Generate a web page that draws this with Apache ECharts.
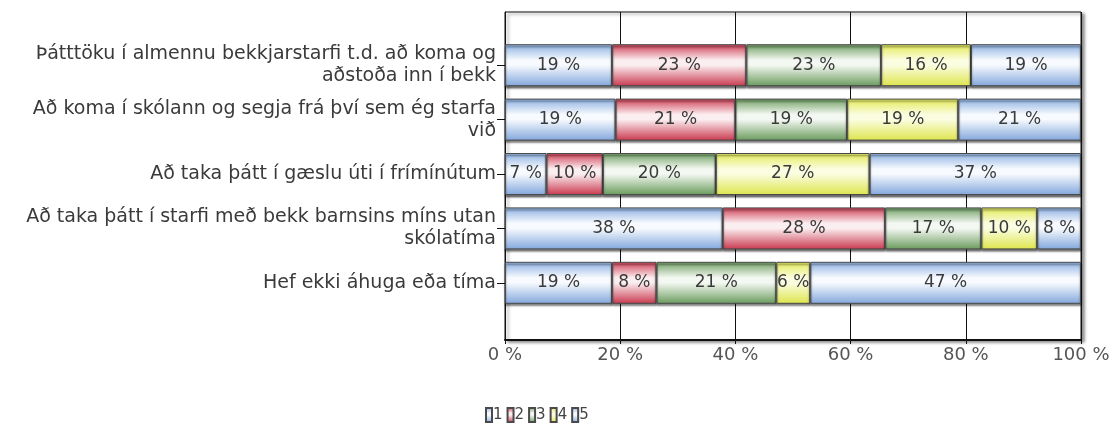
<!DOCTYPE html>
<html>
<head>
<meta charset="utf-8">
<script src="https://cdn.jsdelivr.net/npm/echarts@6/dist/echarts.min.js"></script>
<style>
  html, body { margin: 0; padding: 0; background: #fff; }
  #chart { width: 1115px; height: 424px; }
</style>
</head>
<body>
<div id="chart"></div>
<script>
// categories, top to bottom
const categories = [
  "Þátttöku í almennu bekkjarstarfi t.d. að koma og\naðstoða inn í bekk",
  "Að koma í skólann og segja frá því sem ég starfa\nvið",
  "Að taka þátt í gæslu úti í frímínútum",
  "Að taka þátt í starfi með bekk barnsins míns utan\nskólatíma",
  "Hef ekki áhuga eða tíma"
];

// shares per answer (percent)
const answer1 = [18.6, 19.2, 7.2, 37.8, 18.6];
const answer2 = [23.3, 20.8, 9.8, 28.2, 7.7];
const answer3 = [23.4, 19.4, 19.6, 16.7, 20.8];
const answer4 = [15.6, 19.3, 26.7, 9.7, 5.9];
const answer5 = [19.1, 21.3, 36.7, 7.6, 47.0];

const seriesNames = ["1", "2", "3", "4", "5"];
const xTicks = [0, 20, 40, 60, 80, 100];

const FONT = "DejaVu Sans, Liberation Sans, sans-serif";

const chart = echarts.init(document.getElementById("chart"));

function glossy(edgeTop, mid, edgeBottom) {
  return new echarts.graphic.LinearGradient(0, 0, 0, 1, [
    { offset: 0, color: edgeTop },
    { offset: 0.38, color: mid },
    { offset: 0.5, color: mid },
    { offset: 1, color: edgeBottom }
  ]);
}

const fills = [
  glossy("#8cb0e2", "#f7fafe", "#82a7dc"),
  glossy("#cf3f55", "#fbeef0", "#c9384e"),
  glossy("#6f9f62", "#f4f8f2", "#699b5c"),
  glossy("#e3ea55", "#fbfde0", "#dde54c"),
  glossy("#8cb0e2", "#f7fafe", "#82a7dc")
];

const dataSets = [answer1, answer2, answer3, answer4, answer5];

const barSeries = dataSets.map((values, i) => ({
  name: seriesNames[i],
  type: "bar",
  stack: "total",
  xAxisIndex: 1,
  yAxisIndex: 1,
  barWidth: 42,
  data: values,
  itemStyle: {
    color: fills[i],
    borderColor: "#4a4a4a",
    borderWidth: 1,
    shadowColor: "rgba(0,0,0,0.55)",
    shadowBlur: 2,
    shadowOffsetY: 2
  },
  label: {
    show: true,
    position: "inside",
    color: "#3a3a3a",
    fontFamily: FONT,
    fontSize: 17,
    formatter: p => Math.round(p.value) + " %"
  }
}));

const option = {
  animation: false,
  backgroundColor: "#fff",
  legend: {
    left: 480,
    top: 402,
    itemWidth: 6,
    itemHeight: 14,
    itemGap: 4,
    icon: "rect",
    data: seriesNames,
    textStyle: {
      color: "#444",
      fontSize: 15,
      fontFamily: FONT,
      padding: [0, 0, 0, -4]
    }
  },
  grid: [
    {
      left: 505,
      right: 34,
      top: 12,
      bottom: 84,
      show: true,
      backgroundColor: "#fff",
      borderColor: "#111",
      borderWidth: 1,
      shadowColor: "rgba(0,0,0,0.45)",
      shadowBlur: 3,
      shadowOffsetX: 3,
      shadowOffsetY: 2
    },
    {
      left: 505,
      right: 34,
      top: 38,
      bottom: 114
    }
  ],
  xAxis: [
    {
      gridIndex: 0,
      type: "value",
      min: xTicks[0],
      max: xTicks[xTicks.length - 1],
      interval: 20,
      axisLine: { show: true, lineStyle: { color: "#111", width: 2 } },
      axisTick: { show: true, length: 4, lineStyle: { color: "#111" } },
      splitLine: { show: true, lineStyle: { color: "#111", width: 1 } },
      axisLabel: {
        color: "#555",
        fontSize: 18,
        margin: 6,
        fontFamily: FONT,
        formatter: v => v + " %"
      }
    },
    {
      gridIndex: 1,
      type: "value",
      min: 0,
      max: 100,
      show: false
    }
  ],
  yAxis: [
    {
      gridIndex: 0,
      type: "value",
      min: 0,
      max: 1,
      axisLine: { show: true, lineStyle: { color: "#111" } },
      axisTick: { show: false },
      axisLabel: { show: false },
      splitLine: { show: false }
    },
    {
      gridIndex: 1,
      type: "category",
      inverse: true,
      data: categories,
      axisLine: { show: false },
      axisTick: {
        show: true,
        alignWithLabel: true,
        length: 8,
        lineStyle: { color: "#111" }
      },
      axisLabel: {
        color: "#3a3a3a",
        fontSize: 19,
        lineHeight: 22,
        margin: 9,
        align: "right",
        fontFamily: FONT
      }
    }
  ],
  series: barSeries
};

chart.setOption(option);
</script>
</body>
</html>
